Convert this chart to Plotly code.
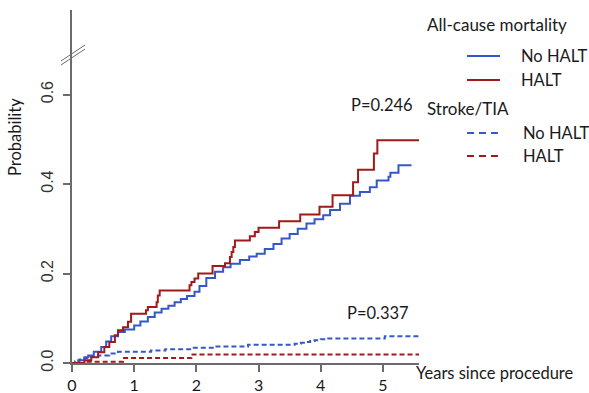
import plotly.graph_objects as go

# ---------------- data ----------------
halt_death_t = [0, 0.2, 0.31, 0.42, 0.52, 0.6, 0.69, 0.74, 0.82, 0.9, 0.95, 1.19, 1.22, 1.36, 1.38, 1.41,
                1.89, 1.92, 1.97, 2.03, 2.26, 2.46, 2.54, 2.567, 2.594, 2.62, 2.86, 2.94, 3.0, 3.33,
                3.67, 3.98, 4.19, 4.52, 4.6, 4.855, 4.91, 5.58]
halt_death_p = [0, 0.006, 0.013, 0.024, 0.036, 0.047, 0.062, 0.073, 0.08, 0.092, 0.11, 0.118, 0.125, 0.136,
                0.151, 0.162, 0.174, 0.181, 0.189, 0.2, 0.217, 0.223, 0.237, 0.248, 0.259, 0.274, 0.283,
                0.293, 0.302, 0.317, 0.332, 0.349, 0.375, 0.404, 0.432, 0.468, 0.498, 0.498]

nohalt_death_t = [0, 0.1, 0.2, 0.26, 0.35, 0.47, 0.55, 0.63, 0.74, 0.85, 1.0, 1.1, 1.22, 1.33, 1.44, 1.55,
                  1.65, 1.75, 1.85, 1.97, 2.05, 2.16, 2.3, 2.43, 2.55, 2.7, 2.85, 2.97, 3.1, 3.24, 3.37,
                  3.5, 3.63, 3.77, 3.9, 4.04, 4.15, 4.31, 4.47, 4.63, 4.79, 4.9, 5.09, 5.12, 5.25, 5.46]
nohalt_death_p = [0, 0.006, 0.013, 0.017, 0.025, 0.036, 0.048, 0.06, 0.069, 0.075, 0.084, 0.093, 0.103,
                  0.113, 0.121, 0.128, 0.136, 0.143, 0.15, 0.159, 0.172, 0.19, 0.204, 0.214, 0.222, 0.23,
                  0.238, 0.244, 0.255, 0.266, 0.278, 0.288, 0.3, 0.312, 0.321, 0.33, 0.342, 0.356, 0.374,
                  0.382, 0.393, 0.408, 0.416, 0.425, 0.442, 0.442]

halt_stroke_t = [0, 0.23, 0.82, 1.92, 5.58]
halt_stroke_p = [0, 0.003, 0.011, 0.019, 0.019]

nohalt_stroke_t = [0, 0.05, 0.12, 0.2, 0.3, 0.42, 0.6, 0.74, 1.27, 1.5, 1.92, 2.3, 2.83, 3.58, 3.68, 3.75,
                   3.83, 3.9, 4.0, 4.12, 5.03, 5.58]
nohalt_stroke_p = [0, 0.004, 0.008, 0.011, 0.014, 0.017, 0.021, 0.025, 0.028, 0.031, 0.034, 0.037, 0.041,
                   0.043, 0.045, 0.047, 0.049, 0.051, 0.053, 0.055, 0.0595, 0.0595]

x_ticks = [0, 1, 2, 3, 4, 5]
y_ticks = [0.0, 0.2, 0.4, 0.6]
y_tick_labels = ["0.0", "0.2", "0.4", "0.6"]
p_mortality = "P=0.246"
p_stroke = "P=0.337"
p_mortality_pos = (4.99, 0.576)
p_stroke_pos = (4.92, 0.111)

BLUE = "#3558c8"
RED = "#a11a1a"
TXT = "#1a1a1a"
AX = "#6b6b6b"
FONT = "Lato, 'Open Sans', sans-serif"

# ---------------- geometry ----------------
W, H = 589, 393
L, R, T, B = 72, 170, 10, 30
PW, PH = W - L - R, H - T - B


def px(x, y):
    return (x - L) / PW, (H - B - y) / PH


fig = go.Figure()
for t, p, c, d in [(nohalt_stroke_t, nohalt_stroke_p, BLUE, "5px,3px"),
                   (halt_stroke_t, halt_stroke_p, RED, "5px,3px"),
                   (nohalt_death_t, nohalt_death_p, BLUE, "solid"),
                   (halt_death_t, halt_death_p, RED, "solid")]:
    fig.add_trace(go.Scatter(x=t, y=p, mode="lines", line=dict(color=c, width=2, dash=d, shape="hv"),
                             showlegend=False, hoverinfo="skip"))

fig.update_layout(
    width=W, height=H, margin=dict(l=L, r=R, t=T, b=B, autoexpand=False),
    paper_bgcolor="white", plot_bgcolor="white",
    font=dict(family=FONT, color=TXT, size=16),
    xaxis=dict(range=[0, 5.58], tickvals=x_ticks, showgrid=False, zeroline=False, automargin=False,
               showline=True, linecolor=AX, linewidth=1.5, ticks="outside", ticklen=7,
               tickcolor=AX, tickwidth=1.5, tickfont=dict(size=16, color=TXT)),
    yaxis=dict(range=[0, PH / 447.5], tickvals=y_ticks, ticktext=y_tick_labels, showgrid=False,
               zeroline=False, showline=True, linecolor=AX, linewidth=1.5, ticks="outside", automargin=False,
               ticklen=7, tickcolor=AX, tickwidth=1.5, tickangle=-90, ticklabelstandoff=4,
               tickfont=dict(family="Liberation Sans, Arial, sans-serif", size=16, color="#333333")),
)

ann = []


def text_px(x, y, text, size=16.5, xanchor="left", **kw):
    xp, yp = px(x, y)
    ann.append(dict(x=xp, y=yp, xref="paper", yref="paper", text=text, xanchor=xanchor,
                    yanchor="middle", showarrow=False, font=dict(size=size), **kw))


# axis titles
text_px(15, 137, "Probability", xanchor="center", textangle=-90)
text_px(414, 373, "Years since procedure")
# p-values
for txt, pos in [(p_mortality, p_mortality_pos), (p_stroke, p_stroke_pos)]:
    ann.append(dict(x=pos[0], y=pos[1], xref="x", yref="y", text=txt, xanchor="center",
                    yanchor="middle", showarrow=False, font=dict(size=16.5)))

# legend (drawn manually)
legend_groups = [("All-cause mortality", 24, [("No HALT", 56, BLUE, "solid"), ("HALT", 80, RED, "solid")]),
                 ("Stroke/TIA", 108, [("No HALT", 133, BLUE, "dash"), ("HALT", 156, RED, "dash")])]
shapes = []
for title, ty, items in legend_groups:
    text_px(425, ty, title, size=17)
    for lab, iy, col, dash in items:
        x0, y0 = px(467, iy)
        x1, _ = px(500, iy)
        shapes.append(dict(type="line", xref="paper", yref="paper", x0=x0, x1=x1, y0=y0, y1=y0,
                           line=dict(color=col, width=2, dash="7px,5px" if dash == "dash" else "solid")))
        text_px(519 if dash == "solid" else 521, iy, lab)

# axis break marks
for off in (0, 4):
    x0, y0 = px(61, 61 + off)
    x1, y1 = px(85, 45 + off)
    shapes.append(dict(type="line", xref="paper", yref="paper", x0=x0, y0=y0, x1=x1, y1=y1,
                       line=dict(color=AX, width=1)))

fig.update_layout(annotations=ann, shapes=shapes)

js = ("document.documentElement.style.overflow='hidden';"
      "document.body.style.margin='0';document.body.style.padding='0';document.body.style.overflow='hidden';")
fig.write_html("out.html", config={"displayModeBar": False}, post_script=js)
